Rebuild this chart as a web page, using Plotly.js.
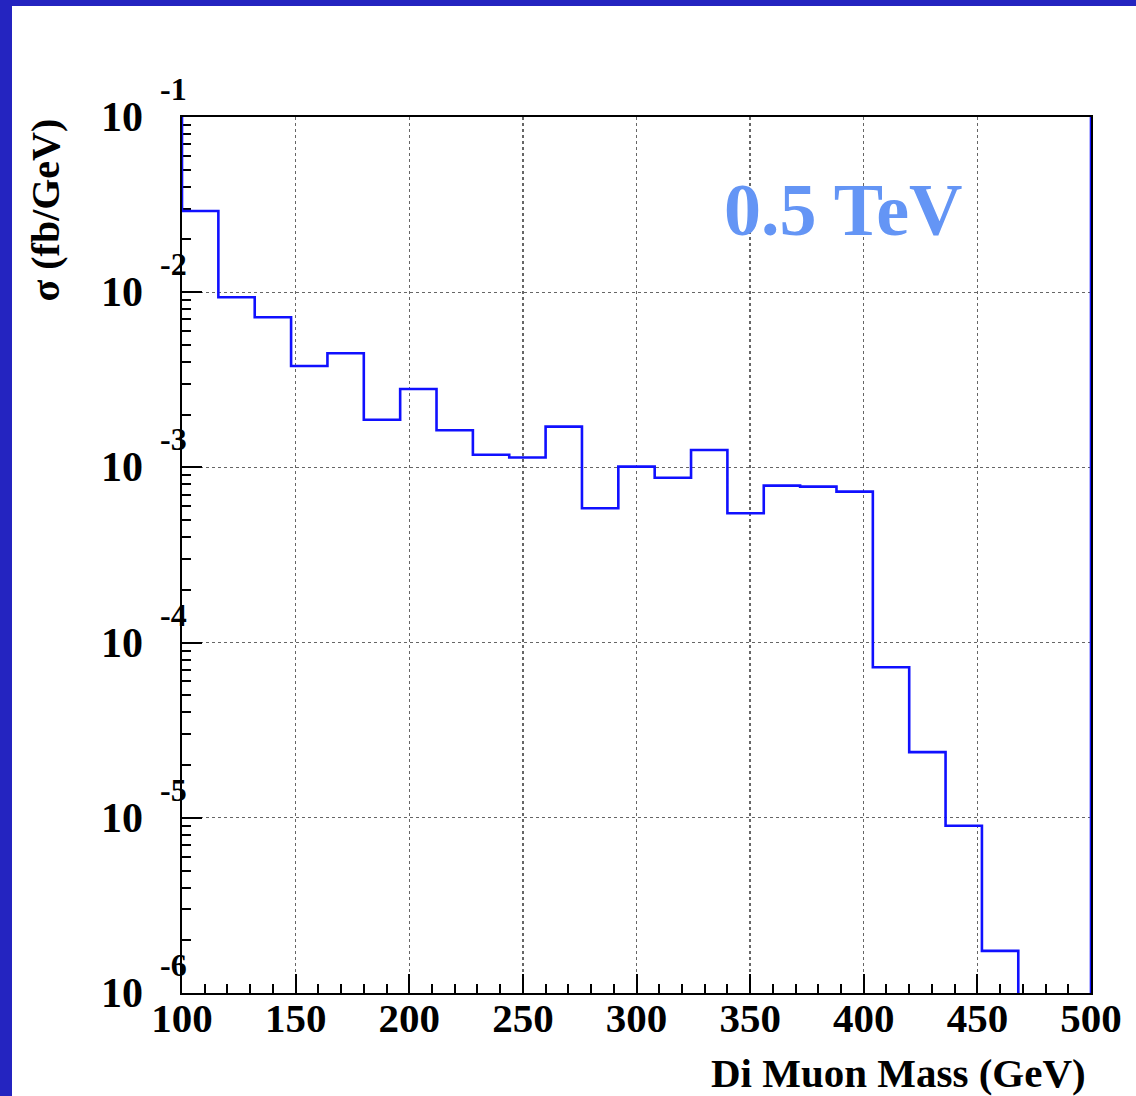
<!DOCTYPE html>
<html>
<head>
<meta charset="utf-8">
<script src="https://cdn.plot.ly/plotly-3.0.1.min.js"></script>
<style>
  html, body { margin: 0; padding: 0; width: 1136px; height: 1096px; overflow: hidden;
    background: #2424c0; }
  #frame { position: absolute; left: 12px; top: 6px; width: 1124px; height: 1090px; background: #ffffff; }
  #chart { width: 1124px; height: 1090px; }
</style>
</head>
<body>
<div id="frame"><div id="chart"></div></div>
<script>
// Bin edges (GeV) and cross-section per bin (fb/GeV)
const binEdges = [100, 116, 132, 148, 164, 180, 196, 212, 228, 244, 260, 276, 292, 308,
                  324, 340, 356, 372, 388, 404, 420, 436, 452, 468, 484, 500];
const sigma = [0.0291, 0.00935, 0.00719, 0.00379, 0.00448, 0.00187, 0.0028, 0.00163,
               0.00118, 0.00114, 0.00171, 0.000585, 0.00101, 0.000873, 0.001256, 0.000547,
               0.000787, 0.000777, 0.000727, 7.23e-5, 2.37e-5, 9.0e-6, 1.74e-6, 0, 0];

const xTickVals = [100, 150, 200, 250, 300, 350, 400, 450, 500];
const xTickText = ['100', '150', '200', '250', '300', '350', '400', '450', '500'];
const yDecadeExps = [-1, -2, -3, -4, -5, -6];
const yRangeExp = [-6, -1];

const labelText = '0.5 TeV';
const xTitle = 'Di Muon Mass (GeV)';
const yTitle = 'σ (fb/GeV)';

// Build the ROOT-style histogram outline (starts and ends at frame top)
const yTop = Math.pow(10, yRangeExp[1]);
const yFloor = Math.pow(10, yRangeExp[0] - 1); // empty bins fall below the frame
const px = [binEdges[0]];
const py = [yTop];
for (let i = 0; i < sigma.length; i++) {
  px.push(binEdges[i]);
  py.push(sigma[i] > 0 ? sigma[i] : yFloor);
}
px.push(binEdges[binEdges.length - 1]); py.push(sigma[sigma.length - 1] > 0 ? sigma[sigma.length - 1] : yFloor);
px.push(binEdges[binEdges.length - 1]); py.push(yTop);

// minor tick positions for log axis
const yMinor = [];
for (let e = yRangeExp[0]; e < yRangeExp[1]; e++) {
  for (let d = 2; d <= 9; d++) yMinor.push(d * Math.pow(10, e));
}

const serif = 'Liberation Serif, Times New Roman, serif';

const trace = {
  x: px, y: py, type: 'scatter', mode: 'lines',
  line: { shape: 'hv', color: '#1010ff', width: 2.6 },
  hoverinfo: 'skip'
};

const annotations = [];
yDecadeExps.forEach(e => {
  annotations.push({
    xref: 'paper', yref: 'y', x: -0.0407, y: e, xanchor: 'right', yanchor: 'middle',
    text: '10', showarrow: false,
    font: { family: serif, size: 42, color: '#000', weight: 'bold' }
  });
  annotations.push({
    xref: 'paper', yref: 'y', x: 0.0072, y: e, xanchor: 'right', yanchor: 'middle', yshift: 28,
    text: String(e), showarrow: false,
    font: { family: serif, size: 32, color: '#000', weight: 'bold' }
  });
});
annotations.push({
  xref: 'paper', yref: 'paper', x: 0.594, y: 0.8938, xanchor: 'left', yanchor: 'middle',
  text: labelText, showarrow: false,
  font: { family: serif, size: 74, color: '#6495f5', weight: 'bold' }
});
annotations.push({
  xref: 'paper', yref: 'paper', x: 0.9967, y: -0.0913, xanchor: 'right', yanchor: 'middle',
  text: xTitle, showarrow: false,
  font: { family: serif, size: 41, color: '#000', weight: 'bold' }
});
annotations.push({
  xref: 'paper', yref: 'paper', x: -0.1507, y: 1.0, xanchor: 'center', yanchor: 'top',
  text: yTitle, showarrow: false, textangle: -90,
  font: { family: serif, size: 40, color: '#000', weight: 'bold' }
});

const layout = {
  width: 1124, height: 1090,
  margin: { l: 170, r: 45, t: 111, b: 103, pad: 0 },
  paper_bgcolor: '#ffffff', plot_bgcolor: '#ffffff',
  showlegend: false,
  xaxis: {
    type: 'linear', range: [100, 500], tickmode: 'array', tickvals: xTickVals, ticktext: xTickText,
    ticks: 'inside', ticklen: 19, tickwidth: 2, tickcolor: '#000',
    minor: { ticks: 'inside', ticklen: 9, tickwidth: 2, tickcolor: '#000', dtick: 10, showgrid: false },
    showline: true, linecolor: '#000', linewidth: 2, mirror: true,
    showgrid: true, gridcolor: '#666', griddash: 'dot', gridwidth: 1.4,
    zeroline: false, layer: 'below traces',
    tickfont: { family: serif, size: 41, color: '#000', weight: 'bold' },
    ticklabelstandoff: -12
  },
  yaxis: {
    type: 'log', range: yRangeExp, tickmode: 'array',
    tickvals: yDecadeExps.map(e => Math.pow(10, e)),
    showticklabels: false,
    ticks: 'inside', ticklen: 20, tickwidth: 2, tickcolor: '#000',
    minor: { ticks: 'inside', ticklen: 9, tickwidth: 2, tickcolor: '#000', tickvals: yMinor, showgrid: false },
    showline: true, linecolor: '#000', linewidth: 2, mirror: true,
    showgrid: true, gridcolor: '#666', griddash: 'dot', gridwidth: 1.4,
    zeroline: false, layer: 'below traces'
  },
  annotations: annotations
};

Plotly.newPlot('chart', [trace], layout, { staticPlot: true, displayModeBar: false });
</script>
</body>
</html>
